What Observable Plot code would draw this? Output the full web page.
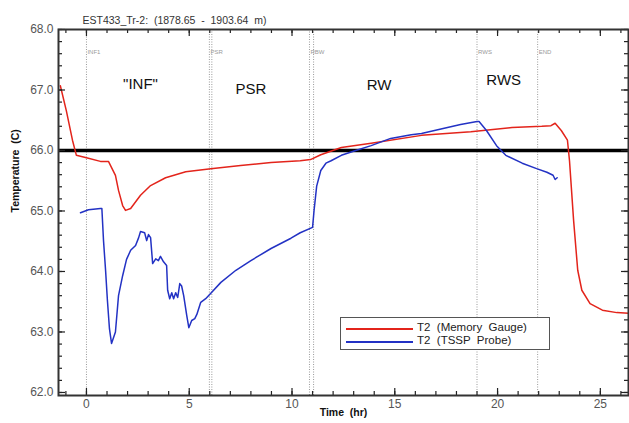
<!DOCTYPE html>
<html><head><meta charset="utf-8">
<script src="https://cdn.jsdelivr.net/npm/d3@7"></script>
<script src="https://cdn.jsdelivr.net/npm/@observablehq/plot@0.6"></script>
<style>
body{margin:0;background:#fff;font-family:"Liberation Sans",Arial,sans-serif;}
#wrap{position:relative;width:629px;height:423px;}
#legend{position:absolute;left:340px;top:317px;width:208px;height:31px;border:1px solid #555;background:#fff;font-size:11.5px;color:#222;}
.row{position:absolute;left:0;height:13px;white-space:pre;}
.sw{position:absolute;left:5px;width:67px;height:0;border-top:2px solid;}
.lt{position:absolute;left:76px;top:-7px;line-height:13px;}
</style></head>
<body><div id="wrap"></div>
<script>
// Memory gauge (red)
const redT = [-1.27,-0.98,-0.68,-0.49,0,0.68,1.07,1.41,1.56,1.76,1.9,2.15,2.63,3.12,3.85,4.83,6.05,7.5,8.98,10.4,10.9,11.4,12.4,13.85,16.3,18.7,20.7,22.15,22.6,22.8,23.1,23.4,23.5,23.7,23.9,24.1,24.5,25.1,25.8,26.37];
const redV = [67.07,66.66,66.17,65.92,65.88,65.82,65.82,65.59,65.34,65.09,65.01,65.04,65.26,65.42,65.55,65.65,65.70,65.75,65.80,65.83,65.85,65.93,66.05,66.12,66.25,66.31,66.38,66.40,66.41,66.45,66.33,66.17,65.83,64.84,64.02,63.69,63.47,63.36,63.32,63.31];
// TSSP probe (blue)
const blueT = [-0.29,0.1,0.68,0.75,0.83,0.93,1.02,1.12,1.22,1.41,1.56,1.76,1.95,2.15,2.39,2.54,2.63,2.83,2.93,3.02,3.12,3.22,3.37,3.5,3.6,3.75,3.9,3.95,4.05,4.15,4.24,4.34,4.44,4.54,4.63,4.73,4.88,4.98,5.12,5.27,5.37,5.56,5.8,6.05,6.54,7.27,8.0,8.98,9.95,10.4,11.0,11.07,11.2,11.4,11.65,11.9,12.4,13.1,13.85,14.8,15.8,16.3,17.3,18.2,19.0,19.1,19.46,19.95,20.4,21.2,21.9,22.4,22.7,22.8,22.9];
const blueV = [64.97,65.02,65.04,65.04,64.51,64.02,63.52,63.05,62.81,63.0,63.6,63.93,64.2,64.35,64.43,64.56,64.66,64.64,64.51,64.61,64.56,64.13,64.21,64.18,64.25,64.16,64.1,63.69,63.55,63.65,63.55,63.65,63.57,63.8,63.76,63.6,63.27,63.07,63.19,63.22,63.29,63.49,63.55,63.64,63.82,64.02,64.18,64.38,64.55,64.64,64.73,65.0,65.41,65.67,65.79,65.83,65.92,66.0,66.08,66.2,66.26,66.28,66.36,66.43,66.48,66.48,66.33,66.08,65.92,65.79,65.70,65.64,65.59,65.52,65.55];
// event markers
const eventT = [0, 5.98, 6.1, 10.85, 11.05, 19.0, 21.95];
const eventNameT = [0, 5.98, 10.85, 19.0, 21.95];
const eventNames = ["INF1", "PSR", "RBW", "RWS", "END"];
// phase labels
const phaseNames = ['"INF"', "PSR", "RW", "RWS"];
const phaseT = [2.63, 8.0, 14.24, 20.3];
const phaseV = [67.1, 67.02, 67.08, 67.16];
const refTemp = 66.0;
const xMajor = [0, 5, 10, 15, 20, 25];
const yMajor = [62, 63, 64, 65, 66, 67, 68];
const xDomain = [-1.36, 26.37];
const yDomain = [61.95, 68.0];

const red = redT.map((t, i) => ({t, v: redV[i]}));
const blue = blueT.map((t, i) => ({t, v: blueV[i]}));
const phases = phaseNames.map((n, i) => ({n, t: phaseT[i], v: phaseV[i]}));
const evLabels = eventNames.map((n, i) => ({n, t: eventNameT[i]}));
const xMinor = d3.range(-1, 27, 1);
const yMinor = d3.range(62, 68.01, 0.2).map(d => +d.toFixed(1));

const W = 629, H = 423, mL = 58, mR = 1, mT = 29, mB = 28;
const fw = W - mL - mR, fh = H - mT - mB;
const tickStyle = {stroke: "#222", strokeWidth: 1.2};
const xt = (data, side, len) => Plot.ruleX(data, {...tickStyle, [side === "bottom" ? "insetTop" : "insetBottom"]: fh - len});
const yt = (data, side, len) => Plot.ruleY(data, {...tickStyle, [side === "left" ? "insetRight" : "insetLeft"]: fw - len});

const chart = Plot.plot({
  width: W, height: H,
  marginLeft: mL, marginRight: mR, marginTop: mT, marginBottom: mB,
  style: {fontFamily: '"Liberation Sans", Arial, sans-serif', background: "#fff"},
  x: {domain: xDomain},
  y: {domain: yDomain},
  marks: [
    Plot.ruleX(eventT, {stroke: "#9a9a9a", strokeDasharray: "1,1.5", strokeWidth: 1}),
    Plot.text(evLabels, {x: "t", text: "n", frameAnchor: "top", dy: 20, dx: 1, textAnchor: "start", fontSize: 6, fill: "#999"}),
    Plot.text(phases, {x: "t", y: "v", text: "n", fontSize: 15, fill: "#111"}),
    Plot.ruleY([refTemp], {stroke: "#000", strokeWidth: 3.5}),
    Plot.line(red, {x: "t", y: "v", stroke: "#e3241b", strokeWidth: 1.5}),
    Plot.line(blue, {x: "t", y: "v", stroke: "#2332c4", strokeWidth: 1.5}),
    Plot.axisX(xMajor, {tickSize: 0, tickPadding: 4, fontSize: 12, fill: "#555", label: null}),
    Plot.axisY(yMajor, {tickSize: 0, tickPadding: 5, fontSize: 12, fill: "#555", tickFormat: d3.format(".1f"), label: null}),
    // inward ticks
    xt(xMajor, "bottom", 7), xt(xMinor, "bottom", 4),
    xt(xMajor, "top", 7), xt(xMinor, "top", 4),
    yt(yMajor, "left", 7), yt(yMinor, "left", 4),
    yt(yMajor, "right", 7), yt(yMinor, "right", 4),
    Plot.frame({stroke: "#333", strokeWidth: 2}),
    Plot.text(["EST433_Tr-2:  (1878.65  -  1903.64  m)"], {frameAnchor: "top-left", dx: 24, dy: -13, textAnchor: "start", fontSize: 10.5, fill: "#333"}),
    Plot.text(["Temperature  (C)"], {frameAnchor: "left", rotate: -90, dx: -43, fontSize: 10.5, fontWeight: "bold", fill: "#111"}),
    Plot.text(["Time  (hr)"], {frameAnchor: "bottom", dy: 20, fontSize: 10.5, fontWeight: "bold", fill: "#111"})
  ]
});
const wrap = document.getElementById("wrap");
wrap.appendChild(chart);
const lg = document.createElement("div");
lg.id = "legend";
lg.innerHTML = `<div class="row" style="top:10px;width:100%"><div class="sw" style="border-color:#e3241b"></div><div class="lt">T2  (Memory  Gauge)</div></div>
<div class="row" style="top:23px;width:100%"><div class="sw" style="border-color:#2332c4"></div><div class="lt">T2  (TSSP  Probe)</div></div>`;
wrap.appendChild(lg);
</script></body></html>
